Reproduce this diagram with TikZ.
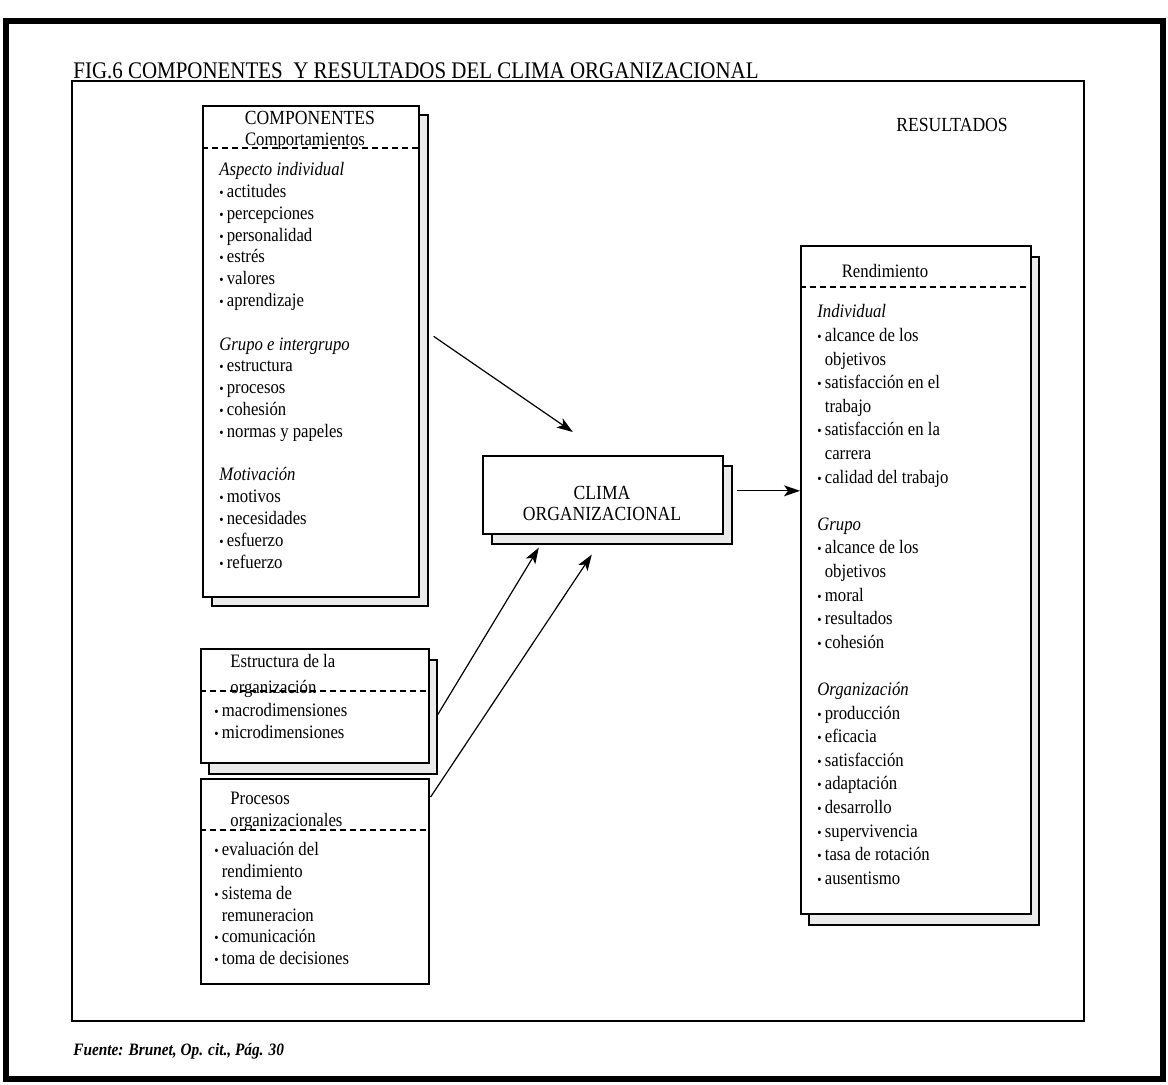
\documentclass[tikz,border=0pt]{standalone}
\usepackage{fontspec}
\setmainfont{Liberation Serif}[FakeStretch=0.88]
\usetikzlibrary{arrows.meta, positioning, calc}

\newcommand{\bul}{{\scriptsize\textbullet}\,}
\newcommand{\ind}{\phantom{\bul}}

\tikzset{
  box/.style={draw, line width=0.8pt, fill=white, anchor=north west, inner sep=0pt},
  shadowbox/.style={draw, line width=1.2pt, fill=black!8, anchor=north west, inner sep=0pt},
  sepline/.style={dashed, dash pattern=on 3pt off 2pt, line width=0.7pt},
  flow/.style={-{Stealth[length=8pt, width=5.5pt, inset=2pt]}, line width=0.6pt},
  head/.style={inner sep=0pt, font=\fontsize{10}{12}\selectfont},
  txt/.style={inner sep=0pt, font=\fontsize{9.5}{10.9}\selectfont},
  block/.style={txt, anchor=north west, align=left},
}

\begin{document}
\begin{tikzpicture}[x=0.5pt, y=-0.5pt]
    \useasboundingbox (0,0) rectangle (1168,1084);

    % Frames
    \draw[line width=3pt] (6,21) rectangle (1163,1079);
    \draw[line width=0.9pt] (72,81) rectangle (1084,1021);

    % Title and source
    \node[anchor=base west, inner sep=0pt, font=\fontsize{11.9}{13}\selectfont] (title) at (73,78)
        {FIG.6 COMPONENTES\ \ Y RESULTADOS DEL CLIMA ORGANIZACIONAL};
    \node[anchor=base west, inner sep=0pt, font=\fontsize{8.7}{11}\selectfont\bfseries\itshape] (fuente) at (73,1055)
        {Fuente: Brunet, Op. cit., Pág. 30};

    % Shadows
    \node[shadowbox, minimum width=108pt, minimum height=245.5pt] (compS) at (211,114) {};
    \node[shadowbox, minimum width=120pt, minimum height=39pt] (climaS) at (491,465) {};
    \node[shadowbox, minimum width=115pt, minimum height=334pt] (rendS) at (808,256) {};
    \node[shadowbox, minimum width=114pt, minimum height=57pt] (estrS) at (208,659) {};

    % Boxes
    \node[box, minimum width=108pt, minimum height=245.5pt] (comp) at (202,105) {};
    \node[box, minimum width=120pt, minimum height=39pt] (clima) at (482,455) {};
    \node[box, minimum width=115pt, minimum height=334pt] (rend) at (800,245) {};
    \node[box, minimum width=114pt, minimum height=57pt] (estr) at (200,648) {};
    \node[box, minimum width=114pt, minimum height=102.5pt] (proc) at (200,778) {};

    % Dashed separators
    \draw[sepline] (comp.west |- 0,148) -- (comp.east |- 0,148);
    \draw[sepline] (rend.west |- 0,287) -- (rend.east |- 0,287);
    \draw[sepline] (estr.west |- 0,691) -- (estr.east |- 0,691);
    \draw[sepline] (proc.west |- 0,830) -- (proc.east |- 0,830);

    % Headings
    \node[head] (compH) at (310,118) {COMPONENTES};
    \node[txt] (compSub) at (305,141) {Comportamientos};
    \node[head] (resH) at (952,125) {RESULTADOS};
    \node[txt] (rendH) at (885,271) {Rendimiento};
    \node[head, align=center, font=\fontsize{10}{10.5}\selectfont] (climaT) at (602,503) {CLIMA\\ORGANIZACIONAL};
    \node[block, font=\fontsize{9.5}{13}\selectfont] (estrH) at (230,649) {\strut Estructura de la\\organización};
    \node[block, font=\fontsize{9.5}{11}\selectfont] (procH) at (230,789) {\strut Procesos\\organizacionales};

    % Lists
    \node[block] (compL) at (219,160) {\strut\textit{Aspecto individual}\\
        \bul actitudes\\ \bul percepciones\\ \bul personalidad\\ \bul estrés\\
        \bul valores\\ \bul aprendizaje\\[10.9pt]
        \textit{Grupo e intergrupo}\\
        \bul estructura\\ \bul procesos\\ \bul cohesión\\ \bul normas y papeles\\[10.9pt]
        \textit{Motivación}\\
        \bul motivos\\ \bul necesidades\\ \bul esfuerzo\\ \bul refuerzo};
    \node[block] (estrL) at (214,701) {\strut\bul macrodimensiones\\ \bul microdimensiones};
    \node[block] (procL) at (214,840) {\strut\bul evaluación del\\ \ind rendimiento\\
        \bul sistema de\\ \ind remuneracion\\ \bul comunicación\\ \bul toma de decisiones};
    \node[block, font=\fontsize{9.5}{11.8}\selectfont] (rendL) at (817,301) {\strut\textit{Individual}\\
        \bul alcance de los\\ \ind objetivos\\ \bul satisfacción en el\\ \ind trabajo\\
        \bul satisfacción en la\\ \ind carrera\\ \bul calidad del trabajo\\[11.8pt]
        \textit{Grupo}\\
        \bul alcance de los\\ \ind objetivos\\ \bul moral\\ \bul resultados\\ \bul cohesión\\[11.8pt]
        \textit{Organización}\\
        \bul producción\\ \bul eficacia\\ \bul satisfacción\\ \bul adaptación\\
        \bul desarrollo\\ \bul supervivencia\\ \bul tasa de rotación\\ \bul ausentismo};

    % Arrows
    \draw[flow] ($(comp.east)+(14,-15)$) -- ($(clima.north)+(-30,-23)$);
    \draw[flow] ($(clima.east)+(13,-4)$) -- ($(rend.west |- clima.east)+(0,-4)$);
    \draw[flow] ($(estr.east)+(8,9)$) -- ($(clima.south)+(-64,13)$);
    \draw[flow] ($(proc.north east)+(1,19)$) -- ($(clima.south)+(-11,20)$);

\end{tikzpicture}
\end{document}
